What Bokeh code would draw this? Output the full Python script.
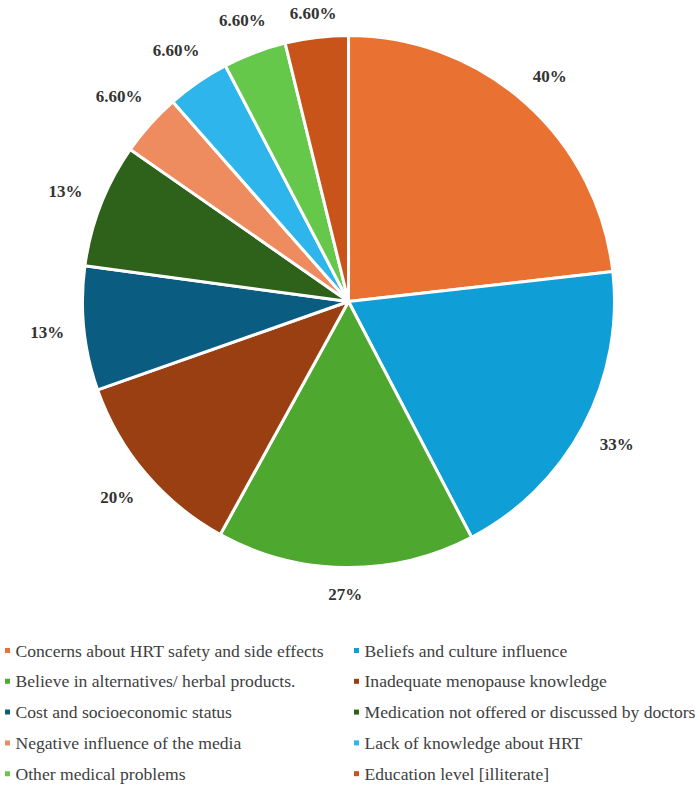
import numpy as np
from bokeh.plotting import figure
from bokeh.models import Range1d, ColumnDataSource
from bokeh.embed import file_html
from bokeh.resources import INLINE

# Reasons reported for not using HRT (percent of respondents)
reasons = [
    "Concerns about HRT safety and side effects",
    "Beliefs and culture influence",
    "Believe in alternatives/ herbal products.",
    "Inadequate menopause knowledge",
    "Cost and socioeconomic status",
    "Medication not offered or discussed by doctors",
    "Negative influence of the media",
    "Lack of knowledge about HRT",
    "Other medical problems",
    "Education level [illiterate]",
]
percents = [40, 33, 27, 20, 13, 13, 6.6, 6.6, 6.6, 6.6]
labels = ["40%", "33%", "27%", "20%", "13%", "13%", "6.60%", "6.60%", "6.60%", "6.60%"]
colors = [
    "#E97132", "#0F9ED5", "#4EA72E", "#9A3F12", "#0A5C80",
    "#2E621B", "#EE8C5F", "#2DB5EC", "#66C84A", "#C9541A",
]

W, H = 700, 786
cx, cy, r = 348, H - 301, 266
FONT = "Liberation Serif"

vals = np.array(percents, dtype=float)
frac = vals / vals.sum()
# clockwise angles measured from 12 o'clock
theta_end = np.cumsum(frac) * 2 * np.pi
theta_start = theta_end - frac * 2 * np.pi
theta_mid = (theta_start + theta_end) / 2

wedges = ColumnDataSource(dict(
    start=np.pi / 2 - theta_end,
    end=np.pi / 2 - theta_start,
    color=colors,
))

p = figure(width=W, height=H, output_backend="svg", toolbar_location=None,
           x_range=Range1d(0, W), y_range=Range1d(0, H),
           min_border=0, outline_line_color=None)
p.axis.visible = False
p.grid.visible = False
p.background_fill_color = "white"
p.border_fill_color = "white"

p.wedge(x=cx, y=cy, radius=r, start_angle="start", end_angle="end",
        fill_color="color", line_color="white", line_width=3, source=wedges)

# data labels placed just outside each slice, kept inside the canvas
half_w = np.array([17 if len(t) <= 3 else 23 for t in labels])
half_h = 8
gap = 19
s, c = np.sin(theta_mid), np.cos(theta_mid)
dist = r + gap + np.abs(s) * half_w + np.abs(c) * half_h
lab_src = ColumnDataSource(dict(
    x=cx + dist * s,
    y=np.minimum(cy + dist * c, H - 13),
    text=labels,
    font=[FONT] * len(labels),
))
p.text(x="x", y="y", text="text", text_font="font", source=lab_src,
       text_font_size="17px", text_font_style="bold",
       text_color="#333333", text_align="center", text_baseline="middle")

# two-column legend under the pie
idx = np.arange(len(reasons))
col = idx % 2
row = idx // 2
lx = 7 + col * 349
ly = H - (650 + row * 30.8)
leg_src = ColumnDataSource(dict(
    mx=lx, tx=lx + 8, y=ly, text=reasons, color=colors, font=[FONT] * len(reasons),
))
p.rect(x="mx", y="y", width=5, height=5, fill_color="color", line_color=None,
       source=leg_src)
p.text(x="tx", y="y", text="text", text_font="font", source=leg_src,
       text_font_size="17.6px", text_color="#404040",
       text_align="left", text_baseline="middle")

open("out.html", "w").write(file_html(p, INLINE))
